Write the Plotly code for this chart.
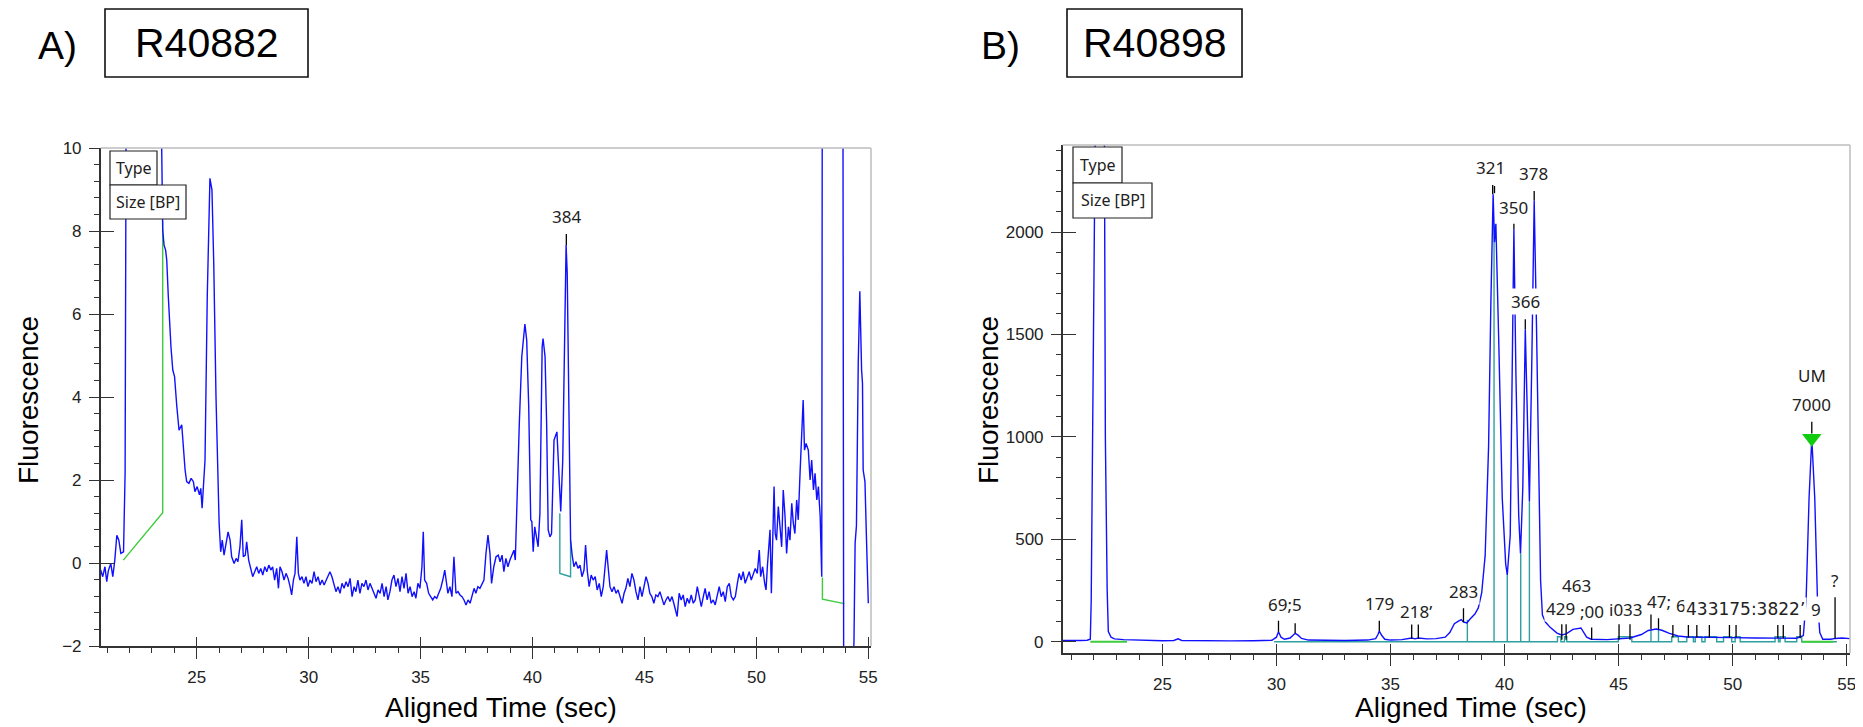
import plotly.graph_objects as go

W, H = 1863, 727
OFF = 8  # the page body margin shifts the figure by 8 px

# ---------------- panel A : R40882 ----------------
a_time = [20.71, 20.80, 20.90, 20.98, 21.05, 21.16, 21.25, 21.34, 21.43, 21.52, 21.61, 21.73, 21.80, 21.86,
          22.0, 22.8, 23.38, 23.43, 23.48, 23.54, 23.61, 23.66, 23.73, 23.81, 23.85, 23.93, 24.01, 24.11,
          24.21, 24.33, 24.40, 24.48, 24.55, 24.65, 24.75, 24.85, 24.92, 25.02, 25.12, 25.18, 25.24, 25.30,
          25.37, 25.47, 25.55, 25.59, 25.68, 25.76, 25.86, 25.92, 25.96, 26.00, 26.07, 26.14, 26.22, 26.31,
          26.40, 26.49, 26.56, 26.67, 26.76, 26.84, 26.93, 27.01, 27.08, 27.17, 27.23, 27.32, 27.41, 27.50,
          27.59, 27.68, 27.77, 27.86, 27.95, 28.04, 28.13, 28.22, 28.31, 28.39, 28.48, 28.57, 28.65, 28.72,
          28.81, 28.90, 28.99, 29.08, 29.17, 29.24, 29.32, 29.39, 29.47, 29.54, 29.61, 29.70, 29.79, 29.88,
          29.97, 30.06, 30.15, 30.24, 30.33, 30.42, 30.51, 30.60, 30.69, 30.78, 30.86, 30.95, 31.04, 31.13,
          31.22, 31.31, 31.40, 31.49, 31.58, 31.67, 31.76, 31.85, 31.94, 32.03, 32.11, 32.20, 32.29, 32.38,
          32.47, 32.56, 32.65, 32.74, 32.83, 32.92, 33.01, 33.10, 33.19, 33.28, 33.37, 33.46, 33.54, 33.63,
          33.72, 33.81, 33.90, 33.99, 34.08, 34.17, 34.26, 34.35, 34.44, 34.53, 34.62, 34.71, 34.79, 34.88,
          34.97, 35.06, 35.12, 35.18, 35.27, 35.36, 35.45, 35.54, 35.63, 35.72, 35.81, 35.90, 35.99, 36.08,
          36.14, 36.22, 36.31, 36.40, 36.49, 36.58, 36.67, 36.76, 36.85, 36.94, 37.03, 37.12, 37.21, 37.30,
          37.39, 37.47, 37.56, 37.65, 37.74, 37.83, 37.92, 38.01, 38.10, 38.17, 38.27, 38.37, 38.47, 38.55,
          38.64, 38.72, 38.81, 38.90, 38.99, 39.08, 39.17, 39.23, 39.29, 39.36, 39.41, 39.52, 39.62, 39.66,
          39.74, 39.83, 39.88, 39.92, 39.97, 40.03, 40.10, 40.18, 40.25, 40.33, 40.38, 40.43, 40.47, 40.56,
          40.63, 40.67, 40.70, 40.78, 40.85, 40.96, 41.05, 41.09, 41.15, 41.19, 41.26, 41.35, 41.42, 41.50,
          41.55, 41.61, 41.67, 41.70, 41.77, 41.85, 41.94, 42.03, 42.12, 42.21, 42.30, 42.37, 42.45, 42.53,
          42.62, 42.71, 42.80, 42.89, 42.98, 43.07, 43.16, 43.25, 43.31, 43.39, 43.46, 43.55, 43.64, 43.73,
          43.82, 43.91, 44.00, 44.09, 44.17, 44.26, 44.35, 44.44, 44.53, 44.62, 44.71, 44.80, 44.89, 44.98,
          45.07, 45.16, 45.24, 45.33, 45.42, 45.51, 45.60, 45.69, 45.78, 45.87, 45.96, 46.05, 46.14, 46.23,
          46.31, 46.40, 46.46, 46.55, 46.64, 46.73, 46.82, 46.91, 47.00, 47.09, 47.18, 47.27, 47.36, 47.45,
          47.54, 47.63, 47.71, 47.80, 47.89, 47.98, 48.07, 48.16, 48.25, 48.34, 48.43, 48.52, 48.61, 48.70,
          48.79, 48.88, 48.97, 49.06, 49.15, 49.23, 49.32, 49.41, 49.50, 49.59, 49.68, 49.77, 49.86, 49.95,
          50.04, 50.13, 50.19, 50.28, 50.37, 50.43, 50.49, 50.55, 50.61, 50.67, 50.73, 50.79, 50.84, 50.90,
          50.98, 51.05, 51.13, 51.20, 51.28, 51.35, 51.43, 51.50, 51.58, 51.65, 51.72, 51.80, 51.87, 51.95,
          52.02, 52.09, 52.15, 52.22, 52.32, 52.40, 52.47, 52.55, 52.62, 52.70, 52.77, 52.85, 52.92, 52.96,
          53.00, 53.80, 53.90, 54.30, 54.36, 54.41, 54.47, 54.55, 54.62, 54.70, 54.74, 54.77, 54.85, 54.92,
          55.00]
a_fluor = [-0.17, -0.33, -0.09, -0.45, -0.19, -0.01, -0.33, 0.07, 0.67, 0.55, 0.23, 0.27, 2.16, 14,
           40, 40, 14, 10.2, 8.02, 7.66, 7.54, 7.30, 6.42, 5.37, 5.2, 4.65, 4.49, 3.77,
           3.20, 3.33, 2.80, 2.24, 1.96, 1.92, 2.04, 1.96, 1.72, 1.84, 1.64, 1.80, 1.32, 1.75,
           2.48, 6.42, 8.34, 9.27, 8.99, 7.22, 4.01, 2.48, 1.76, 0.96, 0.27, 0.55, 0.19, 0.47,
           0.75, 0.55, 0.15, -0.01, 0.11, 0.03, 0.39, 1.04, 0.15, 0.19, 0.51, 0.07, -0.13, -0.33,
           -0.21, -0.09, -0.25, -0.13, -0.29, -0.09, -0.21, -0.05, -0.17, -0.09, -0.41, -0.13, -0.61, -0.09,
           -0.21, -0.41, -0.25, -0.37, -0.57, -0.77, -0.41, -0.25, 0.63, -0.25, -0.41, -0.33, -0.49, -0.33,
           -0.57, -0.41, -0.49, -0.21, -0.45, -0.33, -0.53, -0.41, -0.53, -0.41, -0.33, -0.21, -0.33, -0.49,
           -0.69, -0.57, -0.73, -0.49, -0.61, -0.45, -0.57, -0.37, -0.81, -0.57, -0.69, -0.41, -0.73, -0.49,
           -0.57, -0.41, -0.65, -0.49, -0.61, -0.73, -0.85, -0.65, -0.73, -0.49, -0.81, -0.57, -0.89, -0.69,
           -0.41, -0.29, -0.57, -0.37, -0.69, -0.33, -0.61, -0.25, -0.73, -0.57, -0.81, -0.69, -0.85, -0.49,
           -0.61, -0.09, 0.75, -0.41, -0.49, -0.73, -0.81, -0.89, -0.81, -0.85, -0.73, -0.61, -0.41, -0.17,
           -0.41, -0.73, -0.57, -0.81, 0.15, -0.73, -0.69, -0.77, -0.81, -0.89, -1.01, -0.89, -0.97, -0.81,
           -0.61, -0.73, -0.57, -0.61, -0.49, -0.41, 0.23, 0.67, 0.23, -0.49, -0.09, 0.15, 0.19, 0.03,
           0.19, -0.21, 0.11, -0.09, 0.07, 0.19, 0.31, 0.07, 1.36, 2.56, 3.37, 4.97, 5.69, 5.76,
           5.37, 3.77, 2.24, 1.04, 1.00, 0.27, 0.87, 0.63, 0.39, 1.20, 2.96, 5.21, 5.41, 4.97,
           3.37, 2.24, 0.80, 0.63, 0.71, 2.96, 3.12, 3.16, 2.48, 1.84, 1.24, 2.48, 4.97, 7.66,
           6.98, 4.57, 2.24, 0.55, 0.19, -0.09, 0.03, -0.13, -0.05, -0.33, -0.17, 0.43, -0.21, -0.57,
           -0.29, -0.41, -0.33, -0.65, -0.49, -0.81, -0.57, 0.00, 0.31, -0.17, -0.57, -0.69, -0.57, -0.73,
           -0.65, -0.81, -0.97, -0.73, -0.61, -0.37, -0.57, -0.25, -0.41, -0.69, -0.89, -0.57, -0.81, -0.57,
           -0.33, -0.49, -0.73, -0.81, -0.97, -0.77, -0.81, -0.69, -0.85, -1.01, -0.89, -0.81, -0.93, -0.81,
           -0.97, -1.13, -1.29, -0.73, -0.89, -0.77, -1.05, -0.85, -0.97, -0.77, -0.97, -0.89, -0.57, -0.81,
           -1.05, -0.81, -0.61, -0.89, -0.69, -0.97, -0.89, -1.01, -0.81, -0.57, -0.81, -0.69, -0.93, -0.57,
           -0.49, -0.81, -0.89, -0.81, -0.49, -0.25, -0.41, -0.21, -0.49, -0.33, -0.21, -0.41, -0.25, -0.13,
           -0.25, 0.31, -0.33, -0.09, -0.49, -0.65, -0.09, 0.47, 0.80, -0.73, 0.55, 1.84, 0.71, 0.55,
           1.36, 0.96, 0.39, 1.76, 1.12, 0.23, 0.87, 0.55, 1.44, 0.96, 0.71, 1.52, 1.04, 2.16,
           3.12, 3.93, 2.72, 2.88, 2.72, 2.00, 2.48, 1.76, 2.16, 1.52, 1.84, 1.12, -0.33, 20,
           40, 40, -3, -3, -1.86, 0.48, 0.90, 4.81, 6.55, 4.65, 4.33, 2.24, 1.96, 0.55,
           -0.97]

a_green_t = [21.72, 23.48, 23.48]
a_green_f = [0.07, 1.21, 8.25]
a_green2_t = [52.95, 52.95, 53.93]
a_green2_f = [-0.35, -0.87, -0.98]
a_teal_t = [41.22, 41.22, 41.70, 41.70]
a_teal_f = [1.20, -0.25, -0.33, 0.55]

a_mark_t = [41.51]
a_mark_lo = [7.66]
a_mark_hi = [7.93]
a_lbl_text = ["384"]
a_lbl_t = [41.52]
a_lbl_f = [8.34]

# ---------------- panel B : R40898 ----------------
b_time = [20.63, 21.0, 21.4, 21.7, 21.84, 21.88, 21.94, 22.05, 22.15, 22.35, 22.46, 22.5, 22.58, 22.63,
          22.75, 22.9, 23.3, 24.0, 25.0, 25.5, 25.69, 25.85, 27.0, 28.0, 29.0, 29.8, 30.0, 30.09,
          30.2, 30.35, 30.6, 30.82, 30.95, 31.1, 31.4, 32.0, 33.0, 34.0, 34.35, 34.45, 34.51, 34.62,
          34.75, 35.0, 35.5, 35.93, 36.08, 36.22, 36.6, 37.0, 37.4, 37.6, 37.8, 38.0, 38.1, 38.2,
          38.35, 38.5, 38.7, 38.85, 39.0, 39.15, 39.3, 39.4, 39.5, 39.56, 39.62, 39.75, 39.9, 40.05,
          40.12, 40.25, 40.33, 40.41, 40.5, 40.62, 40.7, 40.8, 40.91, 41.0, 41.09, 41.2, 41.3, 41.4,
          41.48, 41.58, 41.66, 41.8, 42.0, 42.3, 42.5, 42.7, 43.0, 43.2, 43.35, 43.6, 43.8, 44.5,
          45.0, 45.5, 46.0, 46.3, 46.65, 46.9, 47.2, 47.6, 48.0, 49.0, 50.0, 51.0, 52.0, 52.8,
          53.1, 53.22, 53.35, 53.47, 53.6, 53.72, 53.82, 53.95, 54.3, 54.5, 54.8, 55.14]
b_fluor = [6, 5, 6, 7, 12, 200, 1000, 2425, 3200, 3200, 2425, 1000, 250, 50,
           22, 14, 10, 7, 5, 6, 14, 6, 4, 4, 5, 7, 22, 49,
           22, 12, 18, 41, 32, 16, 8, 6, 6, 8, 15, 35, 52, 30,
           12, 8, 10, 18, 14, 18, 14, 15, 22, 45, 88, 102, 108, 96,
           92, 112, 135, 165, 240, 420, 950, 1650, 2185, 1950, 2040, 1450, 700, 380,
           326, 520, 1250, 2015, 1300, 620, 431, 750, 1525, 1050, 684, 1400, 2155, 1550,
           900, 300, 130, 95, 70, 42, 33, 38, 60, 66, 67, 22, 12, 10,
           14, 18, 35, 55, 62, 56, 42, 28, 23, 20, 20, 18, 17, 17,
           30, 200, 700, 993, 700, 200, 45, 12, 12, 16, 18, 15]

b_green_start = [21.84, 53.03]
b_green_end = [23.45, 54.42]
b_teal_start, b_teal_end = 29.9, 54.57
b_notch_start = [42.32, 42.63, 44.99, 47.33, 47.99, 48.36, 48.79, 49.60, 50.11, 51.86, 52.08, 52.81]
b_notch_end = [42.47, 42.73, 45.58, 47.62, 48.28, 48.65, 49.30, 49.96, 50.33, 52.01, 52.30, 53.03]
b_bound_t = [38.37, 39.54, 40.12, 40.71, 41.09, 46.42, 46.75]
b_bound_f = [107, 2038, 326, 431, 684, 58, 60]

b_mark_t = [30.09, 30.82, 34.51, 35.93, 36.22, 38.20, 42.51, 42.70, 43.82, 45.02, 45.50, 46.42, 46.75,
            47.38, 48.06, 48.43, 48.98, 49.86, 50.15, 51.98, 52.22, 52.96, 54.49,
            39.48, 39.56, 40.41, 40.91, 41.30, 53.47]
b_mark_lo = [49, 41, 52, 15, 15, 96, 10, 10, 10, 10, 10, 62, 60,
             20, 20, 20, 20, 20, 20, 17, 17, 17, 16,
             2185, 2190, 2015, 1525, 2155, 1017]
b_mark_hi = [102, 90, 102, 93, 93, 163, 85, 85, 69, 85, 85, 153, 114,
             81, 81, 81, 81, 81, 81, 81, 81, 81, 217,
             2230, 2225, 2040, 1574, 2200, 1074]

b_lbl_text = ["321", "378", "350", "366", "UM", "7000", "69;5", "179", "218\u2019", "283", "463", "429",
              ";00", "i033", "47;", "6", "433175:3822\u2019", "9", "?"]
b_lbl_t = [39.37, 41.27, 40.39, 40.90, 53.47, 53.47, 30.38, 34.54, 36.12, 38.20, 43.17, 42.46,
           43.82, 45.33, 46.75, 47.73, 50.58, 53.64, 54.46]
b_lbl_f = [2316, 2287, 2121, 1660, 1302, 1156, 184, 188, 146, 244, 273, 160,
           146, 155, 195, 179, 160, 158, 301]
b_lbl_wide = "433175:3822\u2019"   # merged run of labels, drawn in a wider face

b_um_t = [53.47]
b_um_f = [993]

# ---------------- helpers ----------------
FW, FH = W - OFF, H - OFF


def fx(p):
    return (p - OFF) / FW


def fy(p):
    return 1 - (p - OFF) / FH


def segs(xs, lo, hi):
    X, Y = [], []
    for x, a, b in zip(xs, lo, hi):
        X += [x, x, None]
        Y += [a, b, None]
    return X, Y


BLUE = "#1010ff"
GREEN = "#3ccc3c"
TEAL = "#2f9f9f"
AXC = "#333333"
TICKFONT = dict(family="Liberation Sans, Arial", size=17, color="#222222")
LBLFONT = dict(family="Noto Sans, DejaVu Sans", size=17, color="#222222")
WIDEFONT = dict(family="DejaVu Sans", size=17, color="#222222")

fig = go.Figure()


def line(x, y, color, xa, ya, width=1.4):
    fig.add_trace(go.Scatter(x=x, y=y, mode="lines", xaxis=xa, yaxis=ya,
                             line=dict(color=color, width=width), showlegend=False,
                             hoverinfo="skip", connectgaps=False))


# panel A traces
line(a_green_t, a_green_f, GREEN, "x", "y")
line(a_green2_t, a_green2_f, GREEN, "x", "y")
line(a_teal_t, a_teal_f, TEAL, "x", "y")
line(a_time, a_fluor, BLUE, "x", "y")
mx, my = segs(a_mark_t, a_mark_lo, a_mark_hi)
line(mx, my, "#000000", "x", "y", 1.3)

# panel B traces
tx, ty = [b_teal_start], [0]
for s, e in zip(b_notch_start, b_notch_end):
    tx += [s, s, e, e]
    ty += [0, 24, 24, 0]
tx.append(b_teal_end)
ty.append(0)
line(tx, ty, TEAL, "x2", "y2")
bx, by = segs(b_bound_t, [0] * len(b_bound_t), b_bound_f)
line(bx, by, TEAL, "x2", "y2")
gx, gy = [], []
for s, e in zip(b_green_start, b_green_end):
    gx += [s, e, None]
    gy += [0, 0, None]
line(gx, gy, GREEN, "x2", "y2", 2)
line(b_time, b_fluor, BLUE, "x2", "y2")
mx, my = segs(b_mark_t, b_mark_lo, b_mark_hi)
line(mx, my, "#000000", "x2", "y2", 1.3)
fig.add_trace(go.Scatter(x=b_um_t, y=b_um_f, mode="markers", xaxis="x2", yaxis="y2",
                         marker=dict(symbol="triangle-down", size=17, color="#11cc11",
                                     line=dict(width=0)),
                         showlegend=False, hoverinfo="skip"))

# dummy traces for the overlay axes (inner part of the major ticks)
fig.add_trace(go.Scatter(x=[None], y=[None], xaxis="x3", yaxis="y3", showlegend=False))
fig.add_trace(go.Scatter(x=[None], y=[None], xaxis="x4", yaxis="y4", showlegend=False))

A_X = [fx(100.7), fx(871)]
A_Y = [fy(646), fy(148)]
B_X = [fx(1062.7), fx(1850)]
B_Y = [fy(653.3), fy(145)]
A_XR, A_YR = [20.71, 55.12], [-2, 10]
B_XR, B_YR = [20.63, 55.145], [-56.6, 2425]


def main_axis(rng, domain, anchor, dtick, mdtick, tick0, ticklen):
    return dict(range=rng, domain=domain, anchor=anchor, showgrid=False, zeroline=False,
                automargin=False,
                showline=True, linecolor=AXC, linewidth=1.5, ticks="outside",
                ticklen=ticklen, tickwidth=1.2, tickcolor=AXC, tickmode="linear",
                tick0=tick0, dtick=dtick, tickfont=TICKFONT, ticklabelstandoff=4,
                minor=dict(ticks="outside", ticklen=5, tickwidth=1, tickcolor=AXC,
                           dtick=mdtick, tick0=tick0, showgrid=False))


def inner_axis(rng, over, anchor, dtick, tick0, ticklen):
    return dict(range=rng, overlaying=over, anchor=anchor, showgrid=False, zeroline=False,
                automargin=False,
                showline=False, ticks="inside", ticklen=ticklen, tickwidth=1.2,
                tickcolor=AXC, tickmode="linear", tick0=tick0, dtick=dtick,
                showticklabels=False)


fig.update_layout(
    width=FW, height=FH, margin=dict(l=0, r=0, t=0, b=0, autoexpand=False),
    paper_bgcolor="white", plot_bgcolor="white", showlegend=False,
    xaxis=main_axis(A_XR, A_X, "y", 5, 1, 0, 11),
    yaxis=main_axis(A_YR, A_Y, "x", 2, 0.4, -2, 10),
    xaxis2=main_axis(B_XR, B_X, "y2", 5, 1, 0, 11),
    yaxis2=main_axis(B_YR, B_Y, "x2", 500, 100, 0, 10),
    xaxis3=inner_axis(A_XR, "x", "y", 5, 0, 9),
    yaxis3=inner_axis(A_YR, "y", "x", 2, -2, 13),
    xaxis4=inner_axis(B_XR, "x2", "y2", 5, 0, 9),
    yaxis4=inner_axis(B_YR, "y2", "x2", 500, 0, 13),
)

shapes = []
# light frame on top and right of each plot
for xr, yr in (("x domain", "y domain"), ("x2 domain", "y2 domain")):
    shapes.append(dict(type="line", xref=xr, yref=yr, x0=0, x1=1, y0=1, y1=1,
                       line=dict(color="#bdbdbd", width=1.5)))
    shapes.append(dict(type="line", xref=xr, yref=yr, x0=1, x1=1, y0=0, y1=1,
                       line=dict(color="#bdbdbd", width=1.5)))

ann = []


def note(x, y, text, font, xref="paper", yref="paper", **kw):
    ann.append(dict(x=x, y=y, xref=xref, yref=yref, text=text, showarrow=False, font=font,
                    xanchor="center", yanchor="middle", **kw))


# "Type" / "Size [BP]" legend boxes
boxes = [(110, 151, 157, 185, "Type"), (110, 185, 186, 219, "Size [BP]"),
         (1073, 147, 1122, 183, "Type"), (1073, 183, 1152, 218, "Size [BP]")]
for x0, y0, x1, y1, t in boxes:
    shapes.append(dict(type="rect", xref="paper", yref="paper", x0=fx(x0), x1=fx(x1),
                       y0=fy(y1), y1=fy(y0), fillcolor="white", layer="above",
                       line=dict(color="#222222", width=1.2)))
    note(fx((x0 + x1) / 2), fy((y0 + y1) / 2), t,
         dict(family="Noto Sans", size=16, color="#222222"))

# sample names and panel letters
for x0, x1, t in ((105, 308, "R40882"), (1067, 1242, "R40898")):
    shapes.append(dict(type="rect", xref="paper", yref="paper", x0=fx(x0), x1=fx(x1),
                       y0=fy(77), y1=fy(9), line=dict(color="#111111", width=1.6)))
    note(fx((x0 + x1) / 2), fy(43), t, dict(family="Liberation Sans, Arial", size=41, color="black"))

for xc, t in ((57, "A)"), (1000, "B)")):
    note(fx(xc), fy(45), t, dict(family="Liberation Sans, Arial", size=39, color="black"))

# axis titles
TFONT = dict(family="Liberation Sans, Arial", size=28, color="black")
for xc in (501, 1471):
    note(fx(xc), fy(707), "Aligned Time (sec)", TFONT)
for xc in (28, 988):
    note(fx(xc), fy(400), "Fluorescence", TFONT, textangle=-90)

# peak labels
for t, x, y in zip(a_lbl_text, a_lbl_t, a_lbl_f):
    note(x, y, t, LBLFONT, xref="x", yref="y", bgcolor="white", borderpad=1)
for t, x, y in zip(b_lbl_text, b_lbl_t, b_lbl_f):
    note(x, y, t, WIDEFONT if t == b_lbl_wide else LBLFONT, xref="x2", yref="y2",
         bgcolor="white", borderpad=1)

fig.update_layout(shapes=shapes, annotations=ann)

fig.write_html("out.html")
